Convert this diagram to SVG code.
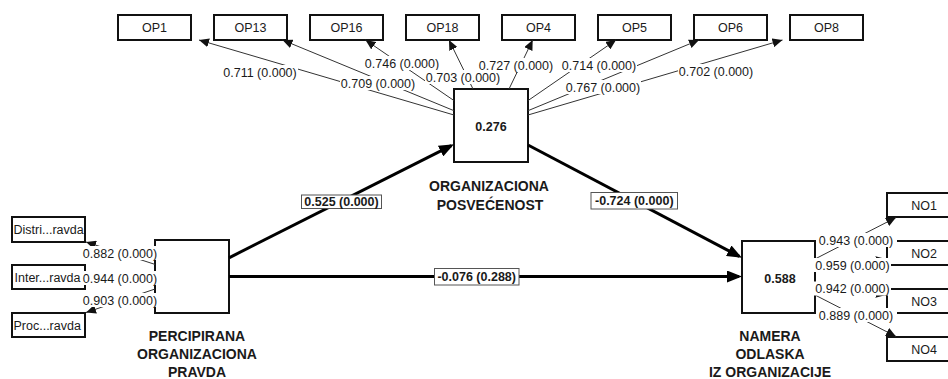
<svg xmlns="http://www.w3.org/2000/svg" width="948" height="379" viewBox="0 0 948 379">
<style>
text{font-family:"Liberation Sans",Arial,sans-serif;fill:#1a1a1a}
.box{fill:#fff;stroke:#111;stroke-width:2}
.ind{font-size:12.5px;text-anchor:middle}
.indl{font-size:12.5px}
.ol{stroke:#333;stroke-width:1;fill:none;marker-end:url(#sa)}
.il{stroke:#000;stroke-width:3;fill:none;marker-end:url(#la)}
.lbl{font-size:12.5px;text-anchor:middle}
.lbg{fill:#fff}
.ibg{fill:#fff;stroke:#555;stroke-width:1}
.ilbl{font-size:12.5px;font-weight:bold;text-anchor:middle}
.val{font-size:12.5px;font-weight:bold;text-anchor:middle}
.name{font-size:14px;font-weight:bold;text-anchor:middle}
</style>
<defs>
<marker id="sa" viewBox="0 0 10 9" refX="10" refY="4.5" markerWidth="10" markerHeight="9" markerUnits="userSpaceOnUse" orient="auto"><path d="M0,0 L10,4.5 L0,9 z" fill="#111"/></marker>
<marker id="la" viewBox="0 0 15 12" refX="12" refY="6" markerWidth="15" markerHeight="12" markerUnits="userSpaceOnUse" orient="auto"><path d="M0,0 L15,6 L0,12 z" fill="#000"/></marker>
<clipPath id="c1"><rect x="12" y="217" width="73" height="25"/></clipPath>
<clipPath id="c2"><rect x="12" y="265" width="73" height="24"/></clipPath>
<clipPath id="c3"><rect x="12" y="313" width="73" height="24"/></clipPath>
</defs>
<rect width="948" height="379" fill="#fff"/>

<g id="OP1"><rect class="box" x="118" y="15" width="73" height="25"/><text class="ind" x="154.5" y="32">OP1</text></g>
<g id="OP13"><rect class="box" x="214" y="15" width="73" height="25"/><text class="ind" x="250.5" y="32">OP13</text></g>
<g id="OP16"><rect class="box" x="310" y="15" width="73" height="25"/><text class="ind" x="346.5" y="32">OP16</text></g>
<g id="OP18"><rect class="box" x="406" y="15" width="73" height="25"/><text class="ind" x="442.5" y="32">OP18</text></g>
<g id="OP4"><rect class="box" x="502" y="15" width="73" height="25"/><text class="ind" x="538.5" y="32">OP4</text></g>
<g id="OP5"><rect class="box" x="598" y="15" width="73" height="25"/><text class="ind" x="634.5" y="32">OP5</text></g>
<g id="OP6"><rect class="box" x="694" y="15" width="73" height="25"/><text class="ind" x="730.5" y="32">OP6</text></g>
<g id="OP8"><rect class="box" x="790" y="15" width="73" height="25"/><text class="ind" x="826.5" y="32">OP8</text></g>

<g id="Distri"><rect class="box" x="12" y="217" width="73" height="25"/><text class="indl" x="13.5" y="234" clip-path="url(#c1)">Distri...ravda</text></g>
<g id="Inter"><rect class="box" x="12" y="265" width="73" height="24"/><text class="indl" x="14.5" y="281.5" clip-path="url(#c2)">Inter...ravda</text></g>
<g id="Proc"><rect class="box" x="12" y="313" width="73" height="24"/><text class="indl" x="13.5" y="329.5" clip-path="url(#c3)">Proc...ravda</text></g>

<g id="NO1"><rect class="box" x="887" y="193" width="73" height="24"/><text class="ind" x="924" y="209.5">NO1</text></g>
<g id="NO2"><rect class="box" x="887" y="241" width="73" height="24"/><text class="ind" x="924" y="257.5">NO2</text></g>
<g id="NO3"><rect class="box" x="887" y="289" width="73" height="24"/><text class="ind" x="924" y="305.5">NO3</text></g>
<g id="NO4"><rect class="box" x="887" y="337" width="73" height="24"/><text class="ind" x="924" y="353.5">NO4</text></g>

<g id="OrgPosvecenost"><rect class="box" x="454" y="89" width="74" height="73"/><text class="val" x="491" y="130.5">0.276</text><text class="name" x="489" y="191">ORGANIZACIONA</text><text class="name" x="490" y="209.5">POSVEĆENOST</text></g>
<g id="PercipiranaPravda"><rect class="box" x="155" y="240" width="74" height="73"/><text class="name" x="197" y="340.5">PERCIPIRANA</text><text class="name" x="197" y="359">ORGANIZACIONA</text><text class="name" x="197" y="377">PRAVDA</text></g>
<g id="NameraOdlaska"><rect class="box" x="742" y="241" width="73" height="72"/><text class="val" x="780" y="282.5">0.588</text><text class="name" x="770" y="340.5">NAMERA</text><text class="name" x="770" y="359">ODLASKA</text><text class="name" x="770" y="377">IZ ORGANIZACIJE</text></g>

<g id="connectors">
<line class="ol" x1="454" y1="115" x2="199" y2="40"/>
<line class="ol" x1="454" y1="110.7" x2="282.5" y2="40"/>
<line class="ol" x1="454" y1="100.6" x2="365.5" y2="40"/>
<line class="ol" x1="473" y1="89" x2="449" y2="40"/>
<line class="ol" x1="509" y1="89" x2="532.7" y2="40"/>
<line class="ol" x1="528" y1="100.6" x2="616" y2="40"/>
<line class="ol" x1="528" y1="110.7" x2="699" y2="40"/>
<line class="ol" x1="528" y1="115" x2="782.5" y2="40"/>
<line class="ol" x1="155" y1="264.4" x2="86" y2="242"/>
<line class="ol" x1="155" y1="277" x2="86" y2="277"/>
<line class="ol" x1="155" y1="289" x2="86" y2="312.5"/>
<line class="ol" x1="815" y1="259" x2="896" y2="217.5"/>
<line class="ol" x1="815" y1="271" x2="886" y2="259"/>
<line class="ol" x1="815" y1="283" x2="886" y2="295"/>
<line class="ol" x1="815" y1="295" x2="896" y2="336.5"/>
<line class="il" x1="229" y1="257.8" x2="451.3" y2="145.6"/>
<line class="il" x1="528" y1="145" x2="739.3" y2="256.4"/>
<line class="il" x1="229" y1="276.5" x2="739" y2="276.5"/>

<rect class="lbg" x="222" y="65" width="76" height="14"/><text class="lbl" x="260" y="76.5">0.711 (0.000)</text>
<rect class="lbg" x="340" y="76" width="76" height="14"/><text class="lbl" x="378" y="87.5">0.709 (0.000)</text>
<rect class="lbg" x="364" y="56" width="76" height="14"/><text class="lbl" x="402" y="67.5">0.746 (0.000)</text>
<rect class="lbg" x="425" y="70" width="76" height="14"/><text class="lbl" x="463" y="81.5">0.703 (0.000)</text>
<rect class="lbg" x="478" y="58" width="76" height="14"/><text class="lbl" x="516" y="69.5">0.727 (0.000)</text>
<rect class="lbg" x="561" y="58" width="76" height="14"/><text class="lbl" x="599" y="69.5">0.714 (0.000)</text>
<rect class="lbg" x="565" y="80" width="76" height="14"/><text class="lbl" x="603" y="91.5">0.767 (0.000)</text>
<rect class="lbg" x="678" y="64" width="76" height="14"/><text class="lbl" x="716" y="75.5">0.702 (0.000)</text>

<rect class="lbg" x="82" y="246" width="76" height="14"/><text class="lbl" x="120" y="257.5">0.882 (0.000)</text>
<rect class="lbg" x="82" y="271" width="76" height="14"/><text class="lbl" x="120" y="282.5">0.944 (0.000)</text>
<rect class="lbg" x="82" y="293" width="76" height="14"/><text class="lbl" x="120" y="304.5">0.903 (0.000)</text>

<rect class="lbg" x="817" y="233" width="80" height="14"/><text class="lbl" x="856" y="244.5">0.943 (0.000)</text>
<rect class="lbg" x="813" y="258" width="78" height="14"/><text class="lbl" x="852.5" y="269.5">0.959 (0.000)</text>
<rect class="lbg" x="813" y="281.5" width="78" height="14"/><text class="lbl" x="852.5" y="293">0.942 (0.000)</text>
<rect class="lbg" x="817" y="308" width="80" height="14"/><text class="lbl" x="856" y="319.5">0.889 (0.000)</text>

<rect class="ibg" x="301.5" y="195" width="80" height="13.5"/><text class="ilbl" x="341.5" y="206">0.525 (0.000)</text>
<rect class="ibg" x="591" y="192.5" width="86.5" height="16.5"/><text class="ilbl" x="634.3" y="205.2">-0.724 (0.000)</text>
<rect class="ibg" x="434.5" y="268.5" width="84.5" height="16.5"/><text class="ilbl" x="476.7" y="281.2">-0.076 (0.288)</text>
</g>
</svg>
